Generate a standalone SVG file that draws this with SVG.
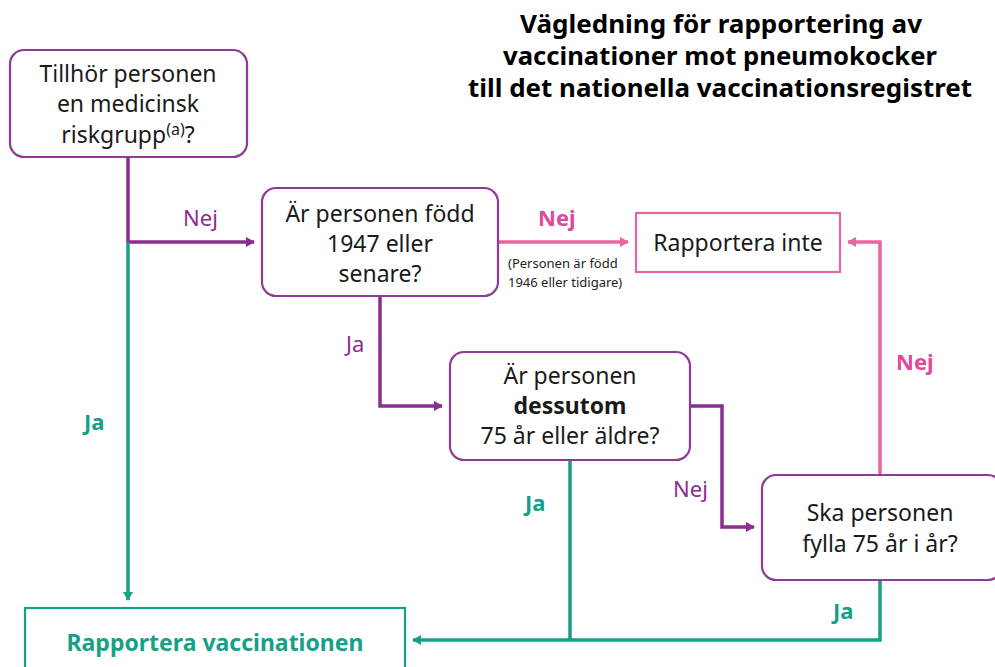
<svg xmlns="http://www.w3.org/2000/svg" width="995" height="667" viewBox="0 0 995 667">
<defs>
<marker id="ap" markerWidth="10" markerHeight="10" refX="8" refY="5" orient="auto" markerUnits="userSpaceOnUse"><path d="M0,0 L9,5 L0,10 z" fill="#8B2C8F"/></marker>
<marker id="ak" markerWidth="10" markerHeight="10" refX="8" refY="5" orient="auto" markerUnits="userSpaceOnUse"><path d="M0,0 L9,5 L0,10 z" fill="#E8659F"/></marker>
<marker id="ag" markerWidth="10" markerHeight="10" refX="8" refY="5" orient="auto" markerUnits="userSpaceOnUse"><path d="M0,0 L9,5 L0,10 z" fill="#16A085"/></marker>
</defs>
<style>
text{font-family:"Noto Sans","Liberation Sans",sans-serif;}
.q{fill:#fff;stroke:#8E3A96;stroke-width:2.2;}
.t{font-size:23px;fill:#1a1a1a;text-anchor:middle;}
.lp{fill:none;stroke:#8B2C8F;stroke-width:3.5;}
.lk{fill:none;stroke:#E8659F;stroke-width:3.5;}
.lg{fill:none;stroke:#16A085;stroke-width:3.5;}
.np{font-size:22px;fill:#8B2C8F;}
.nk{font-size:22px;fill:#E0489A;font-weight:bold;}
.ja{font-size:22px;fill:#16A085;font-weight:bold;}
.title{font-size:25px;font-weight:bold;fill:#000;text-anchor:middle;}
</style>
<rect width="995" height="667" fill="#fff"/>
<g id="title">
<text class="title" x="721" y="33" textLength="402" lengthAdjust="spacingAndGlyphs">Vägledning för rapportering av</text>
<text class="title" x="720" y="65" textLength="434" lengthAdjust="spacingAndGlyphs">vaccinationer mot pneumokocker</text>
<text class="title" x="720" y="97" textLength="504" lengthAdjust="spacingAndGlyphs">till det nationella vaccinationsregistret</text>
</g>
<g id="connectors">
<path class="lp" d="M128,157 V242 H254" marker-end="url(#ap)"/>
<path class="lg" d="M128,242 V600" marker-end="url(#ag)"/>
<path class="lk" d="M498,242 H628" marker-end="url(#ak)"/>
<path class="lk" d="M880,475 V242 H848" marker-end="url(#ak)"/>
<path class="lp" d="M380,296 V406 H442" marker-end="url(#ap)"/>
<path class="lp" d="M690,406 H722 V527 H754" marker-end="url(#ap)"/>
<path class="lg" d="M570,460 V640"/>
<path class="lg" d="M880,580 V640 H413" marker-end="url(#ag)"/>
<text class="np" x="183" y="226">Nej</text>
<text class="nk" x="538" y="226">Nej</text>
<text x="508" y="268" font-size="13" fill="#222">(Personen är född</text>
<text x="508" y="287" font-size="13" fill="#222">1946 eller tidigare)</text>
<text class="nk" x="896" y="370">Nej</text>
<text class="np" x="346" y="352">Ja</text>
<text class="np" x="673" y="497">Nej</text>
<text class="ja" x="84" y="430">Ja</text>
<text class="ja" x="525" y="511">Ja</text>
<text class="ja" x="833" y="619">Ja</text>
</g>
<g id="n1">
<rect class="q" x="10" y="50" width="237" height="107" rx="14"/>
<text class="t" x="128" y="82">Tillhör personen</text>
<text class="t" x="128" y="112">en medicinsk</text>
<text class="t" x="128" y="143">riskgrupp<tspan font-size="16" dy="-8">(a)</tspan><tspan dy="8">?</tspan></text>
</g>
<g id="n2">
<rect class="q" x="262" y="188" width="236" height="108" rx="14"/>
<text class="t" x="380" y="222">Är personen född</text>
<text class="t" x="380" y="252">1947 eller</text>
<text class="t" x="380" y="282">senare?</text>
</g>
<g id="n3">
<rect x="636" y="213" width="204" height="59" fill="#fff" stroke="#E8659F" stroke-width="2.2"/>
<text class="t" x="738" y="251">Rapportera inte</text>
</g>
<g id="n4">
<rect class="q" x="450" y="352" width="240" height="108" rx="14"/>
<text class="t" x="570" y="384">Är personen</text>
<text class="t" x="570" y="414" font-weight="bold">dessutom</text>
<text class="t" x="570" y="444">75 år eller äldre?</text>
</g>
<g id="n5">
<rect class="q" x="762" y="475" width="240" height="105" rx="14"/>
<text class="t" x="880" y="521">Ska personen</text>
<text class="t" x="880" y="552">fylla 75 år i år?</text>
</g>
<g id="n6">
<rect x="25" y="608" width="380" height="80" fill="#fff" stroke="#16A085" stroke-width="2.2"/>
<text x="215" y="651" font-size="23" font-weight="bold" fill="#16A085" text-anchor="middle">Rapportera vaccinationen</text>
</g>
</svg>
